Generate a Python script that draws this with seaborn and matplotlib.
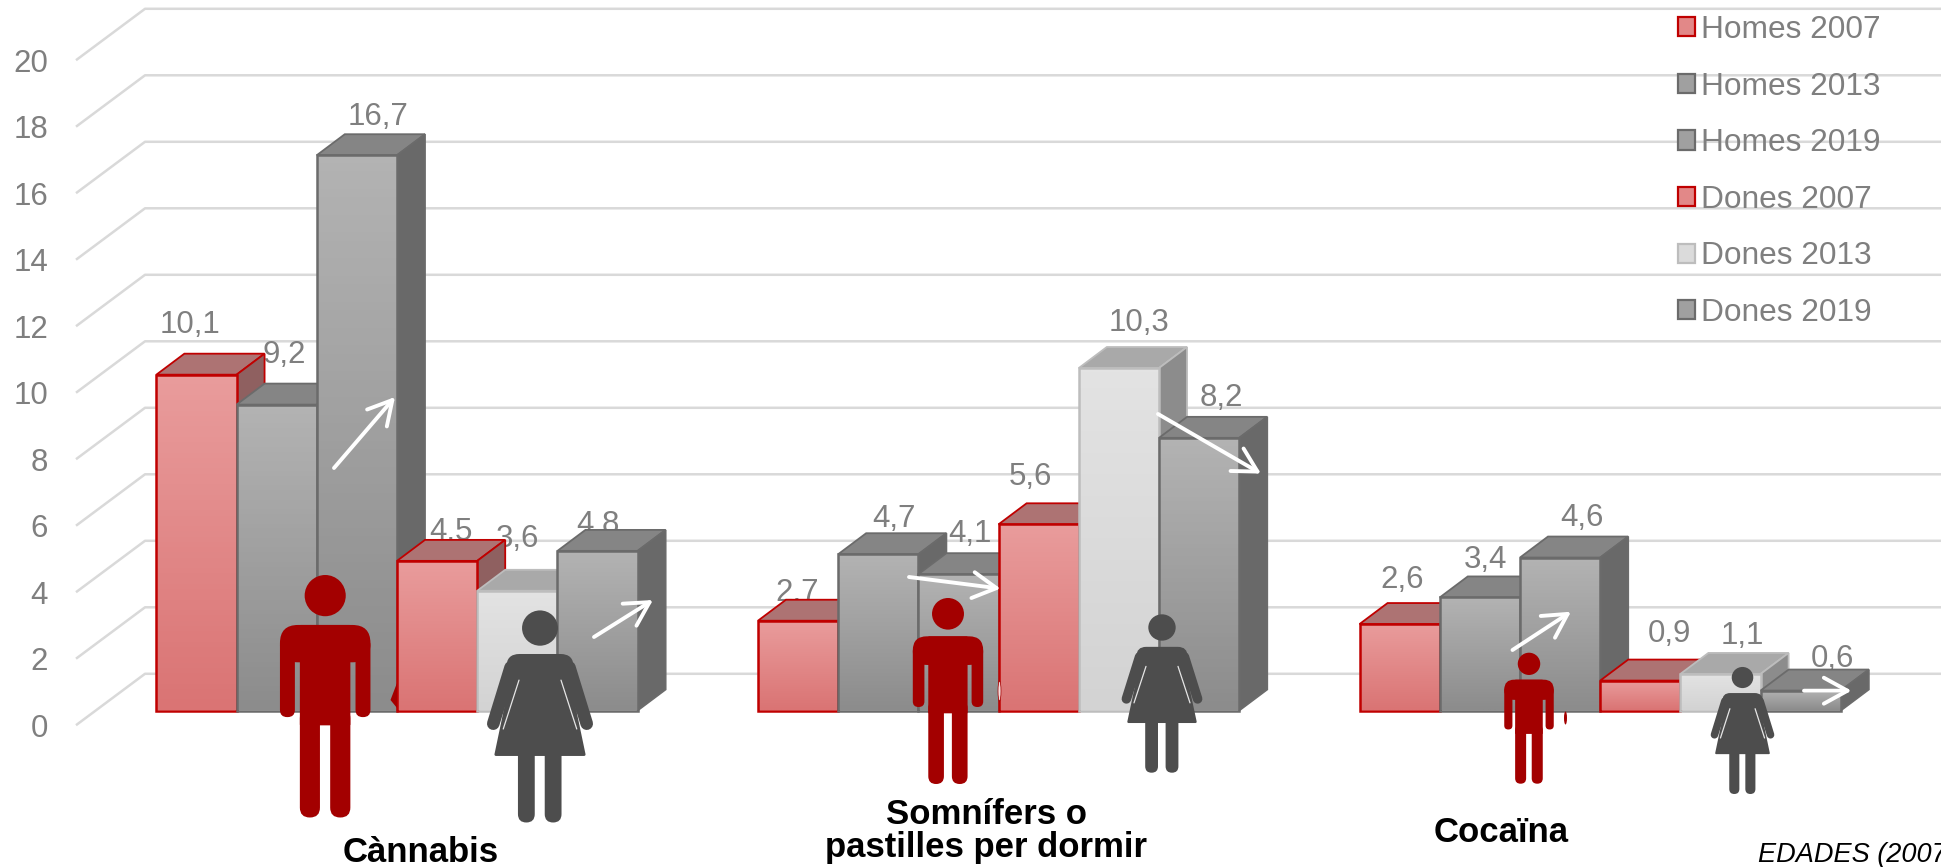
import numpy as np
import pandas as pd
import matplotlib
matplotlib.use("Agg")
import matplotlib.pyplot as plt
import seaborn as sns
from matplotlib.patches import Polygon, Patch, FancyBboxPatch, Ellipse, FancyArrowPatch
from matplotlib.lines import Line2D
from matplotlib.transforms import Affine2D
from matplotlib.colors import LinearSegmentedColormap, to_rgb

# ---- data -------------------------------------------------------------
substances = ["Cànnabis", "Somnífers o\npastilles per dormir", "Cocaïna"]
series_names = ["Homes 2007", "Homes 2013", "Homes 2019",
                "Dones 2007", "Dones 2013", "Dones 2019"]
homes_2007 = [10.1, 2.7, 2.6]
homes_2013 = [9.2, 4.7, 3.4]
homes_2019 = [16.7, 4.1, 4.6]
dones_2007 = [4.5, 5.6, 0.9]
dones_2013 = [3.6, 10.3, 1.1]
dones_2019 = [4.8, 8.2, 0.6]
y_ticks = list(range(0, 21, 2))
source_text = "EDADES (2007"

# ---- styles (front top, front bottom, edge, top face, side face) -------
RED = ("#e99c9c", "#da7474", "#c00000", "#ad7373", "#8f6060")
GREY = ("#b3b3b3", "#8c8c8c", "#6b6b6b", "#858585", "#696969")
LIGHT = ("#e3e3e3", "#d3d3d3", "#bdbdbd", "#a9a9a9", "#8c8c8c")
styles = dict(zip(series_names, [RED, GREY, GREY, RED, LIGHT, GREY]))
TXT = "#7f7f7f"
GRID = "#d9d9d9"
MAN = "#a30000"
WOMAN = "#4d4d4d"

sns.set_theme(style="white")
plt.rcParams["font.family"] = ["Liberation Sans", "DejaVu Sans"]

W, H = 1941, 867
fig = plt.figure(figsize=(W / 100, H / 100), dpi=100)
ax = fig.add_axes([0, 0, 1, 1])

values = [homes_2007, homes_2013, homes_2019, dones_2007, dones_2013, dones_2019]
df = pd.DataFrame({
    "substance": np.tile(substances, len(series_names)),
    "series": np.repeat(series_names, len(substances)),
    "pct": np.concatenate(values),
})
sns.barplot(data=df, x="substance", y="pct", hue="series", order=substances,
            hue_order=series_names, width=0.8, gap=0, saturation=1, legend=False,
            palette={k: v[0] for k, v in styles.items()}, ax=ax)

# scales: pixels per data unit
PX_X, PX_Y = 601.6, 33.25
X0, BASE = 397.0, 710.5
xlim = ((0 - X0) / PX_X, (W - X0) / PX_X)
ylim = ((BASE - H) / PX_Y, BASE / PX_Y)
ax.axis("off")
px = Affine2D().scale(1, -1).translate(0, H)  # overlay coordinates, top-left origin

# wall and grid
front_off, back_off = -14.7 / PX_Y, 36.7 / PX_Y
wall_x0, wall_x1 = (76 - X0) / PX_X, (145 - X0) / PX_X
for v in y_ticks:
    ax.plot([wall_x0, wall_x1, xlim[1]], [v + front_off, v + back_off, v + back_off],
            color=GRID, lw=1.8, zorder=1, solid_joinstyle="round", solid_capstyle="butt")
    ax.text((48 - X0) / PX_X, v + front_off, str(v), ha="right", va="center_baseline",
            color=TXT, fontsize=22.5, zorder=2)

# 3D bars + labels
label_dx = [-6, -1, 2, 8, 15.5, 5.5, 21, 11, 22, 14, -8.6, 29, 0, 19.7, 21.6, 0, 22, 32]
label_dy = [-53, -31, -48, -53, -38.7, -41, -42, -43.7, -43, -32, -50.4, -50,
            -55, -48.5, -41, -29.4, -43.6, -35]
DX, DY = 28 / PX_X, 21 / PX_Y
n = len(substances)
bars = list(ax.patches)
order = []
for si, name in enumerate(series_names):
    for ci in range(n):
        order.append((bars[si * n + ci], name, values[si][ci], ci, si))
order.sort(key=lambda t: t[0].get_x())

for i, (bar, name, val, ci, si) in enumerate(order):
    st = styles[name]
    x, w, h = bar.get_x(), bar.get_width(), bar.get_height()
    z = 10 + i * 0.1
    ax.add_patch(Polygon([(x, h), (x + DX, h + DY), (x + w + DX, h + DY), (x + w, h)],
                         closed=True, fc=st[3], ec=st[2], lw=1.3, zorder=z))
    ax.add_patch(Polygon([(x + w, 0), (x + w + DX, DY), (x + w + DX, h + DY), (x + w, h)],
                         closed=True, fc=st[4], ec=st[2], lw=1.3, zorder=z))
    cmap = LinearSegmentedColormap.from_list("g", [st[1], st[0]])
    bar.set_facecolor("none")
    bar.set_edgecolor(st[2])
    bar.set_linewidth(1.8)
    bar.set_zorder(z + 0.02)
    im = ax.imshow(np.linspace(1, 0, 64).reshape(-1, 1), cmap=cmap, vmin=0, vmax=1,
                   extent=(x, x + w, 0, h), aspect="auto", zorder=z + 0.01)
    im.set_clip_path(bar)
    pos = si * 3 + ci
    ax.text(x + w / 2 + label_dx[pos] / PX_X, h - label_dy[pos] / PX_Y,
            f"{val:.1f}".replace(".", ","), ha="center", va="center_baseline",
            color=TXT, fontsize=22.5, zorder=5)

ax.set_xlim(*xlim)
ax.set_ylim(*ylim)


# ---- pictograms (overlay, pixel coordinates) ---------------------------
def rbox(x0, y0, x1, y1, r, color, z=50):
    r = min(r, (x1 - x0) / 2, (y1 - y0) / 2)
    ax.add_patch(FancyBboxPatch((x0 + r, y0 + r), x1 - x0 - 2 * r, y1 - y0 - 2 * r,
                                boxstyle=f"round,pad={r},rounding_size={r}",
                                fc=color, ec="none", lw=0, transform=px, zorder=z, clip_on=False))


def man(cx, top, w, h):
    X = lambda u: cx + u * w
    Y = lambda v: top + v * h
    ax.add_patch(Ellipse((cx, Y(.085)), 2 * .227 * w, 2 * .085 * h, fc=MAN, ec="none",
                         transform=px, zorder=50))
    rbox(X(-.5), Y(.206), X(.5), Y(.36), .2 * w, MAN)
    rbox(X(-.5), Y(.26), X(-.335), Y(.586), .08 * w, MAN)
    rbox(X(.335), Y(.26), X(.5), Y(.586), .08 * w, MAN)
    rbox(X(-.28), Y(.206), X(.278), Y(.62), .01 * w, MAN)
    rbox(X(-.28), Y(.55), X(-.058), Y(1), .11 * w, MAN)
    rbox(X(.055), Y(.55), X(.278), Y(1), .11 * w, MAN)


def woman(cx, top, w, h):
    X = lambda u: cx + u * w
    Y = lambda v: top + v * h
    ax.add_patch(Ellipse((cx, Y(.085)), 2 * .171 * w, 2 * .083 * h, fc=WOMAN, ec="none",
                         transform=px, zorder=50))
    rbox(X(-.32), Y(.207), X(.32), Y(.33), .13 * w, WOMAN)
    ax.add_patch(Polygon([(X(-.25), Y(.28)), (X(.25), Y(.28)), (X(.42), Y(.68)),
                          (X(-.42), Y(.68))], closed=True, fc=WOMAN, ec=WOMAN,
                         lw=w * .02, joinstyle="round", transform=px, zorder=50))
    rbox(X(-.21), Y(.62), X(-.05), Y(1), .08 * w, WOMAN)
    rbox(X(.045), Y(.62), X(.205), Y(1), .08 * w, WOMAN)
    for s in (-1, 1):
        ax.add_line(Line2D([X(s * .20), X(s * .35)], [Y(.33), Y(.56)], color="#e6e6e6",
                           lw=0.9, transform=px, zorder=50))
        ax.add_line(Line2D([X(s * .28), X(s * .445)], [Y(.27), Y(.535)], color=WOMAN,
                           lw=w * .12 * .72, solid_capstyle="round", transform=px, zorder=50.1))


man(325.2, 575, 90.5, 242.5)
man(948, 598, 70.4, 186)
man(1529, 652.7, 49.5, 131)
woman(540, 610, 105, 212.5)
woman(1162, 614, 80, 158.7)
woman(1742.5, 666.7, 63, 127.3)

# small leftovers of the pasted pictograms
ax.add_patch(Polygon([(397, 683), (390.5, 700), (397, 708)], closed=True, fc=MAN, ec="none",
                     transform=px, zorder=49))
ax.add_patch(Ellipse((999.5, 691), 3, 20, fc="#f3dede", ec=MAN, lw=.5, transform=px, zorder=49))
ax.add_patch(Ellipse((1565.5, 718), 3, 13, fc=MAN, ec="none", transform=px, zorder=49))

# trend arrows
arrows = [((334, 468), (395, 397)), ((594, 637), (653, 600)),
          ((909, 577), (1000.5, 588.6)), ((1158, 414), (1261, 473.6)),
          ((1512.5, 650), (1571, 611.7)), ((1804, 690.7), (1851.5, 690.7))]
for a, b in arrows:
    ax.add_patch(FancyArrowPatch(a, b, arrowstyle="->,head_length=1.0,head_width=0.55",
                                 mutation_scale=17, lw=2.8, color="white", shrinkA=0, shrinkB=0,
                                 transform=px, zorder=60))

# category labels
cat_pos = [(421, 852), (986, 831), (1501, 833)]
for (cx, cy), s in zip(cat_pos, substances):
    ax.text(cx, cy, s, transform=px, ha="center", va="center", fontsize=25, fontweight="bold",
            color="black", linespacing=1.0, zorder=70)

ax.text(1757.5, 852, source_text, transform=px, ha="left", va="center_baseline", fontsize=19.5,
        fontstyle="italic", color="black", zorder=70)

# legend
handles = [Patch(facecolor=(np.array(to_rgb(styles[s][0])) + np.array(to_rgb(styles[s][1]))) / 2,
                 edgecolor=styles[s][2], linewidth=1.6) for s in series_names]
leg = ax.legend(handles, series_names, loc="upper left",
                bbox_to_anchor=(1678 / W, 1 - 15 / H), bbox_transform=fig.transFigure,
                frameon=False, fontsize=22.8, labelcolor=TXT, borderpad=0, borderaxespad=0,
                handlelength=0.55, handleheight=0.55, handletextpad=0.18, labelspacing=0.84)
leg.set_zorder(8)

fig.savefig("out.png", dpi=100)
